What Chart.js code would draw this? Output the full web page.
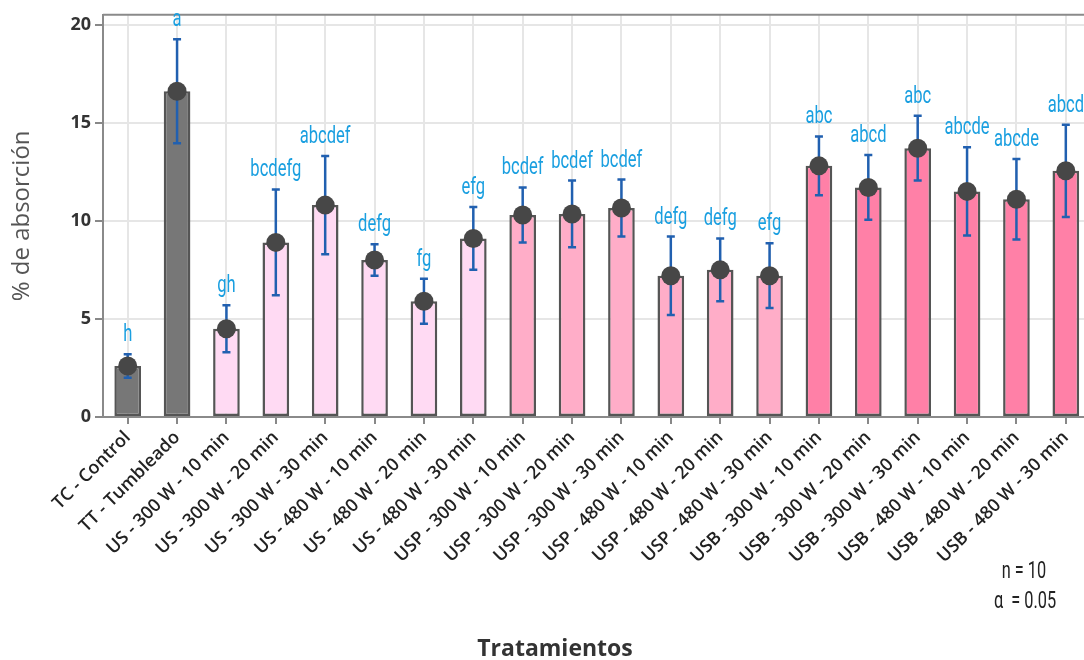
<!DOCTYPE html>
<html>
<head>
<meta charset="utf-8">
<script src="https://cdn.jsdelivr.net/npm/chart.js@4.4.1/dist/chart.umd.min.js"></script>
<style>
  html, body { margin: 0; padding: 0; background: #fff; }
  #wrap { width: 1084px; height: 660px; overflow: hidden; position: relative; }
  canvas { display: block; }
</style>
</head>
<body>
<div id="wrap">
  <canvas id="chart" width="1100" height="660" style="width:1100px;height:660px"></canvas>
</div>
<script>
const categories = [
  "TC - Control", "TT - Tumbleado",
  "US - 300 W - 10 min", "US - 300 W - 20 min", "US - 300 W - 30 min",
  "US - 480 W - 10 min", "US - 480 W - 20 min", "US - 480 W - 30 min",
  "USP - 300 W - 10 min", "USP - 300 W - 20 min", "USP - 300 W - 30 min",
  "USP - 480 W - 10 min", "USP - 480 W - 20 min", "USP - 480 W - 30 min",
  "USB - 300 W - 10 min", "USB - 300 W - 20 min", "USB - 300 W - 30 min",
  "USB - 480 W - 10 min", "USB - 480 W - 20 min", "USB - 480 W - 30 min"
];

// mean absorption (%)
const means = [2.6, 16.6, 4.5, 8.9, 10.8, 8.0, 5.9, 9.1, 10.3, 10.35, 10.65,
  7.2, 7.5, 7.2, 12.8, 11.7, 13.7, 11.5, 11.1, 12.55];

// standard deviation
const errors = [0.6, 2.65, 1.2, 2.7, 2.5, 0.8, 1.15, 1.6, 1.4, 1.7, 1.45,
  2.0, 1.6, 1.65, 1.5, 1.65, 1.65, 2.25, 2.05, 2.35];

// Tukey grouping letters
const groups = ["h", "a", "gh", "bcdefg", "abcdef", "defg", "fg", "efg", "bcdef", "bcdef",
  "bcdef", "defg", "defg", "efg", "abc", "abcd", "abc", "abcde", "abcde", "abcd"];

const yTicks = [0, 5, 10, 15, 20];

const fills = { TC: "#777777", TT: "#777777", US: "#ffdaf3", USP: "#ffadc8", USB: "#ff80a7" };
const barColors = categories.map(c => fills[c.split(" ")[0]]);

// narrow text: squeeze a regular face horizontally
function narrowText(ctx, text, x, y, squeeze) {
  ctx.save();
  ctx.translate(x, y);
  ctx.scale(squeeze, 1);
  ctx.fillText(text, 0, 0);
  ctx.restore();
}

const annotations = {
  id: "annotations",
  beforeDatasetsDraw(chart) {
    const { ctx, chartArea } = chart;
    ctx.save();
    ctx.strokeStyle = "#8a8a8a";
    ctx.lineWidth = 2;
    ctx.beginPath();
    ctx.moveTo(chartArea.left, chartArea.top);
    ctx.lineTo(chartArea.right, chartArea.top);
    ctx.stroke();
    ctx.restore();
  },
  afterDatasetDraw(chart, args) {
    if (args.index !== 0) return;
    const { ctx } = chart;
    const x = chart.scales.x, y = chart.scales.y;
    ctx.save();
    ctx.strokeStyle = "#2160b0";
    ctx.lineWidth = 2.5;
    means.forEach((m, i) => {
      const px = x.getPixelForValue(i);
      const top = y.getPixelForValue(m + errors[i]);
      const bot = y.getPixelForValue(m - errors[i]);
      ctx.beginPath();
      ctx.moveTo(px, top); ctx.lineTo(px, bot);
      ctx.moveTo(px - 4, top); ctx.lineTo(px + 4, top);
      ctx.moveTo(px - 4, bot); ctx.lineTo(px + 4, bot);
      ctx.stroke();
    });
    ctx.restore();
  },
  afterDatasetsDraw(chart) {
    const { ctx } = chart;
    const x = chart.scales.x, y = chart.scales.y;
    ctx.save();
    ctx.fillStyle = "#1a9fe0";
    ctx.font = "23px Roboto, sans-serif";
    ctx.textAlign = "center";
    ctx.textBaseline = "alphabetic";
    groups.forEach((g, i) => {
      const px = x.getPixelForValue(i);
      const top = y.getPixelForValue(means[i] + errors[i]);
      narrowText(ctx, g, px, top - 13, 0.72);
    });

    ctx.fillStyle = "#222";
    ctx.font = "24px Roboto, sans-serif";
    ctx.textAlign = "center";
    narrowText(ctx, "n = 10", 1024, 578, 0.68);
    narrowText(ctx, "\u03b1  = 0.05", 1025, 608, 0.68);

    ctx.fillStyle = "#333";
    ctx.font = "bold 23px 'Open Sans', sans-serif";
    ctx.fillText("Tratamientos", 555, 656);
    ctx.restore();
  }
};

new Chart(document.getElementById("chart"), {
  data: {
    labels: categories,
    datasets: [
      {
        type: "bar",
        data: means,
        backgroundColor: barColors,
        borderColor: "#555555",
        borderWidth: 2.5,
        borderSkipped: false,
        categoryPercentage: 1,
        barPercentage: 0.54,
        order: 2
      },
      {
        type: "line",
        data: means,
        showLine: false,
        pointRadius: 9.5,
        pointBackgroundColor: "#474747",
        pointBorderWidth: 0,
        order: 1
      }
    ]
  },
  options: {
    responsive: false,
    animation: false,
    layout: { padding: { top: 14, right: 9, left: 0, bottom: 0 } },
    plugins: {
      legend: { display: false },
      tooltip: { enabled: false }
    },
    scales: {
      x: {
        offset: true,
        grid: { offset: false, color: "#e6e6e6", lineWidth: 2, tickColor: "#888", tickLength: 7 },
        border: { color: "#8a8a8a", width: 2 },
        ticks: {
          minRotation: 45,
          maxRotation: 45,
          autoSkip: false,
          padding: 3,
          color: "#222",
          font: { family: "'Open Sans', sans-serif", size: 18, weight: 600 }
        },
        afterFit(scale) { scale.height = 243; }
      },
      y: {
        min: 0,
        max: 20.5,
        afterBuildTicks(scale) { scale.ticks = yTicks.map(v => ({ value: v })); },
        grid: { color: "#e6e6e6", lineWidth: 2, tickColor: "#888", tickLength: 8 },
        border: { color: "#8a8a8a", width: 2 },
        ticks: {
          padding: 4,
          color: "#333",
          font: { family: "'Open Sans', sans-serif", size: 18, weight: "bold" }
        },
        title: {
          display: true,
          text: "% de absorción",
          color: "#555",
          padding: { top: 8 },
          font: { family: "'Open Sans', sans-serif", size: 24 }
        },
        afterFit(scale) { scale.width = 103; }
      }
    }
  },
  plugins: [annotations]
});
</script>
</body>
</html>
